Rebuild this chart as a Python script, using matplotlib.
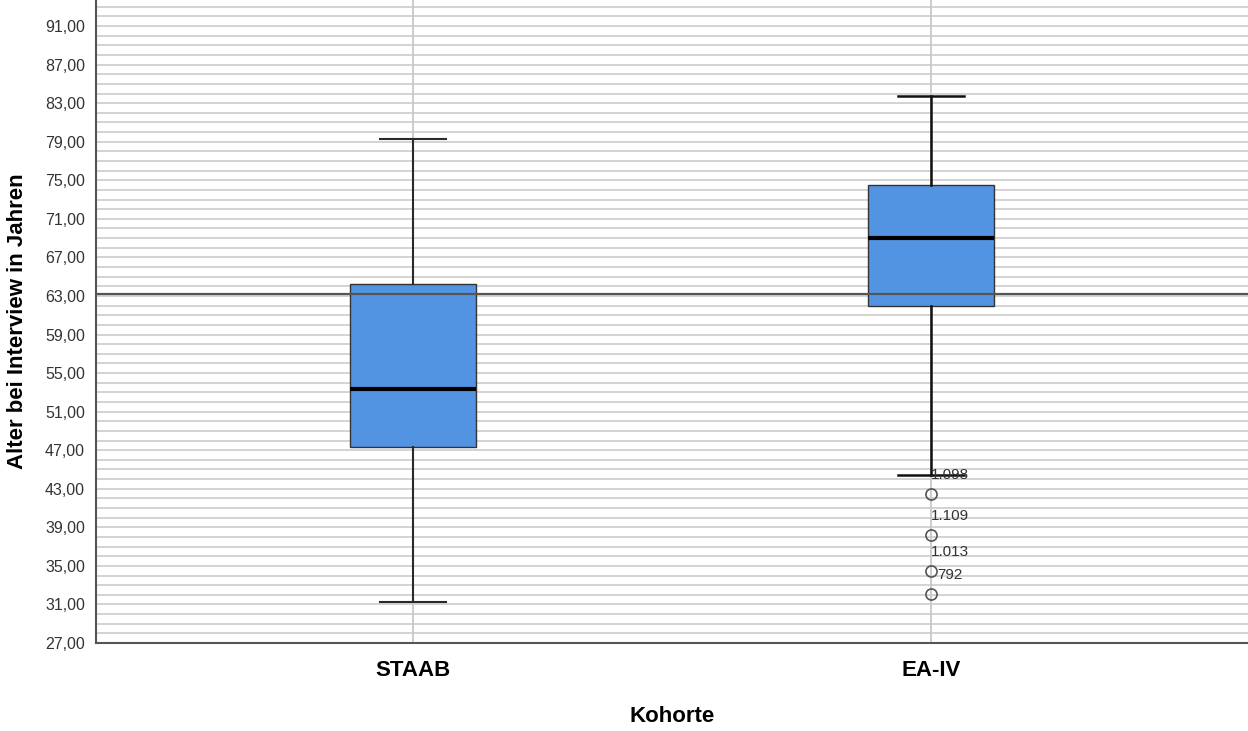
import matplotlib.pyplot as plt
import numpy as np

plt.rcParams['font.family'] = ['Liberation Sans', 'DejaVu Sans']

cohorts = ['STAAB', 'EA-IV']
whis_lo = [31.25, 44.4]
q1 = [47.3, 61.95]
median = [53.35, 69.0]
q3 = [64.25, 74.5]
whis_hi = [79.3, 83.75]
fliers = [[], [42.45, 38.2, 34.45, 32.1]]
flier_labels = ['1.098', '1.109', '1.013', '792']
ref_line = 63.2

yticks = np.arange(27, 92, 4)

fig = plt.figure(figsize=(12.48, 7.31), dpi=100)
ax = fig.add_axes([96 / 1248, 1 - 643 / 731, 1 - 96 / 1248, 643 / 731])

stats = []
for i, name in enumerate(cohorts):
    stats.append(dict(label=name, whislo=whis_lo[i], q1=q1[i], med=median[i],
                      q3=q3[i], whishi=whis_hi[i], fliers=fliers[i]))

# grid first
for y in range(27, 94):
    ax.axhline(y, color='#d0d0d0', lw=1.3, zorder=0)
for x in [1, 2]:
    ax.axvline(x, color='#c8c8c8', lw=1.3, zorder=0)

bp = ax.bxp(stats, positions=[1, 2], widths=0.245, patch_artist=True,
            showfliers=True, zorder=2,
            boxprops=dict(facecolor='#5394e2', edgecolor='#333333', lw=1.0),
            medianprops=dict(color='black', lw=3),
            whiskerprops=dict(color='#111111', lw=1.8),
            capprops=dict(color='#111111', lw=1.8),
            flierprops=dict(marker='o', markerfacecolor='none',
                            markeredgecolor='#555555', markersize=8, mew=1.2))
for cap in bp['caps']:
    x0, x1 = cap.get_xdata()
    c = (x0 + x1) / 2
    cap.set_xdata([c - 0.063, c + 0.063])
# STAAB whiskers look a bit lighter in the original
for art in bp['whiskers'][:2] + bp['caps'][:2]:
    art.set_color('#2a2a2a')
    art.set_linewidth(1.5)

ax.axhline(ref_line, color='#555555', lw=1.6, zorder=3)

for y, lab in zip(fliers[1], flier_labels):
    ax.annotate(lab, (2, y), xytext=(19, 12), textcoords='offset pixels',
                ha='center', va='bottom', fontsize=11, color='#333333', zorder=4)

ax.set_xlim(0.388, 2.612)
ax.set_ylim(27, 93.7)
ax.set_yticks(yticks)
ax.set_yticklabels([f'{v:.2f}'.replace('.', ',') for v in yticks])
ax.set_xticks([1, 2])
ax.set_xticklabels(cohorts, fontsize=16, fontweight='bold')
ax.tick_params(axis='y', length=0, pad=8, labelsize=11.5, labelcolor='#333333')
ax.tick_params(axis='x', length=0, pad=12)

for s in ['top', 'right']:
    ax.spines[s].set_visible(False)
for s in ['left', 'bottom']:
    ax.spines[s].set_color('#555555')
    ax.spines[s].set_linewidth(1.5)

ax.set_xlabel('Kohorte', fontsize=16, fontweight='bold', labelpad=18)
ax.set_ylabel('Alter bei Interview in Jahren', fontsize=16, fontweight='bold', labelpad=12)

fig.savefig('out.png', dpi=100)
